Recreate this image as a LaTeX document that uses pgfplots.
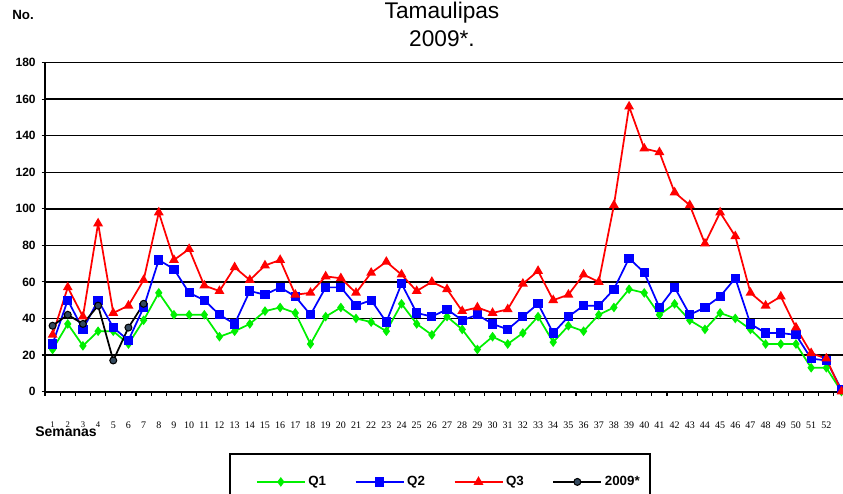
\documentclass[border=0pt]{standalone}
\usepackage{fontspec}
\setmainfont{Liberation Serif}
\setsansfont{Liberation Sans}
\usepackage{pgfplots}
\pgfplotsset{compat=1.18}
\definecolor{qgreen}{HTML}{00F000}
\definecolor{qblue}{HTML}{0000FF}
\definecolor{qred}{HTML}{FF0000}
\definecolor{slate}{HTML}{34495E}

\begin{document}
\begin{tikzpicture}
\useasboundingbox (0,0) rectangle (632.25pt,369.75pt);
\begin{axis}[
  at={(33.75pt,76.125pt)}, anchor=south west,
  scale only axis, width=598.5pt, height=246.6pt,
  xmin=0.5, xmax=53.1, ymin=0, ymax=180,
  clip=false,
  axis x line*=bottom, axis y line*=left,
  axis line style={line width=1.5pt,-},
  /pgf/number format/assume math mode=true,
  ytick={0,20,...,180},
  ymajorgrids, grid style={black, line width=1.1pt},
  xtick={1,...,52},
  xticklabels={\raisebox{5pt}{\fontsize{6.5}{7}\selectfont 1},\raisebox{5pt}{\fontsize{6.5}{7}\selectfont 2},\raisebox{5pt}{\fontsize{6.5}{7}\selectfont 3},\raisebox{5pt}{\fontsize{6.5}{7}\selectfont 4},5,6,7,8,9,10,11,12,13,14,15,16,17,18,19,20,21,22,23,24,25,26,27,28,29,30,31,32,33,34,35,36,37,38,39,40,41,42,43,44,45,46,47,48,49,50,51,52},
  major x tick style={draw=none},
  minor xtick={0.5,1.5,...,53.5},
  minor tick length=3pt, major tick length=2.5pt, tick align=outside,
  tick style={black, line width=0.8pt},
  xticklabel style={font=\rmfamily\fontsize{7.5}{8}\selectfont, anchor=north, yshift=-17pt},
  yticklabel style={font=\sffamily\bfseries\fontsize{9}{10}\selectfont, xshift=-1pt},
  legend columns=4,
  legend style={at={(0.264,-0.275)}, anchor=west, draw=none, fill=none, inner sep=0pt,
    font=\sffamily\bfseries\fontsize{10}{12}\selectfont,
    /tikz/every even column/.append style={column sep=19.5pt}},
  legend image code/.code={\draw[#1,mark repeat=2,mark phase=2] plot coordinates {(0pt,0pt) (18pt,0pt) (36pt,0pt)};},
]
\addplot[color=qgreen, line width=1.3pt, mark=diamond*, mark size=2.6pt] coordinates {
(1,23) (2,37) (3,25) (4,33) (5,33) (6,26) (7,39) (8,54) (9,42) (10,42)
(11,42) (12,30) (13,33) (14,37) (15,44) (16,46) (17,43) (18,26) (19,41) (20,46)
(21,40) (22,38) (23,33) (24,48) (25,37) (26,31) (27,41) (28,34) (29,23) (30,30)
(31,26) (32,32) (33,41) (34,27) (35,36) (36,33) (37,42) (38,46) (39,56) (40,54)
(41,42) (42,48) (43,39) (44,34) (45,43) (46,40) (47,34) (48,26) (49,26) (50,26)
(51,13) (52,13) (53,0)};
\addlegendentry{Q1}
\addplot[color=qblue, line width=1.3pt, mark=square*, mark size=2.8pt] coordinates {
(1,26) (2,50) (3,34) (4,50) (5,35) (6,28) (7,46) (8,72) (9,67) (10,54)
(11,50) (12,42) (13,37) (14,55) (15,53) (16,57) (17,52) (18,42) (19,57) (20,57)
(21,47) (22,50) (23,38) (24,59) (25,43) (26,41) (27,45) (28,39) (29,42) (30,37)
(31,34) (32,41) (33,48) (34,32) (35,41) (36,47) (37,47) (38,56) (39,73) (40,65)
(41,46) (42,57) (43,42) (44,46) (45,52) (46,62) (47,37) (48,32) (49,32) (50,31)
(51,18) (52,17) (53,1)};
\addlegendentry{Q2}
\addplot[color=qred, line width=1.3pt, mark=triangle*, mark size=3pt] coordinates {
(1,31) (2,57) (3,41) (4,92) (5,43) (6,47) (7,61) (8,98) (9,72) (10,78)
(11,58) (12,55) (13,68) (14,61) (15,69) (16,72) (17,53) (18,54) (19,63) (20,62)
(21,54) (22,65) (23,71) (24,64) (25,55) (26,60) (27,56) (28,44) (29,46) (30,43)
(31,45) (32,59) (33,66) (34,50) (35,53) (36,64) (37,60) (38,102) (39,156) (40,133)
(41,131) (42,109) (43,102) (44,81) (45,98) (46,85) (47,54) (48,47) (49,52) (50,35)
(51,21) (52,18) (53,0)};
\addlegendentry{Q3}
\addplot[color=black, line width=1.3pt, mark=*, mark size=2.6pt, mark options={fill=slate, draw=black, line width=0.8pt}] coordinates {
(1,36) (2,42) (3,37) (4,47) (5,17) (6,35) (7,48)};
\addlegendentry{2009*}
\draw[line width=1.5pt] (axis description cs:0.2318,-0.8) |- (axis description cs:0.7581,-0.190) -- (axis description cs:0.7581,-0.8);
\end{axis}
\node[font=\sffamily\fontsize{17}{20}\selectfont, anchor=base] at (331.5pt,355.5pt) {Tamaulipas};
\node[font=\sffamily\fontsize{17}{20}\selectfont, anchor=base] at (331.5pt,334.5pt) {2009*.};
\node[font=\sffamily\bfseries\fontsize{10}{12}\selectfont, anchor=base west, inner sep=0pt] at (9pt,354.75pt) {No.};
\node[font=\sffamily\bfseries\fontsize{10.5}{12}\selectfont, anchor=base west, inner sep=0pt] at (26.25pt,42pt) {Semanas};
\end{tikzpicture}
\end{document}
